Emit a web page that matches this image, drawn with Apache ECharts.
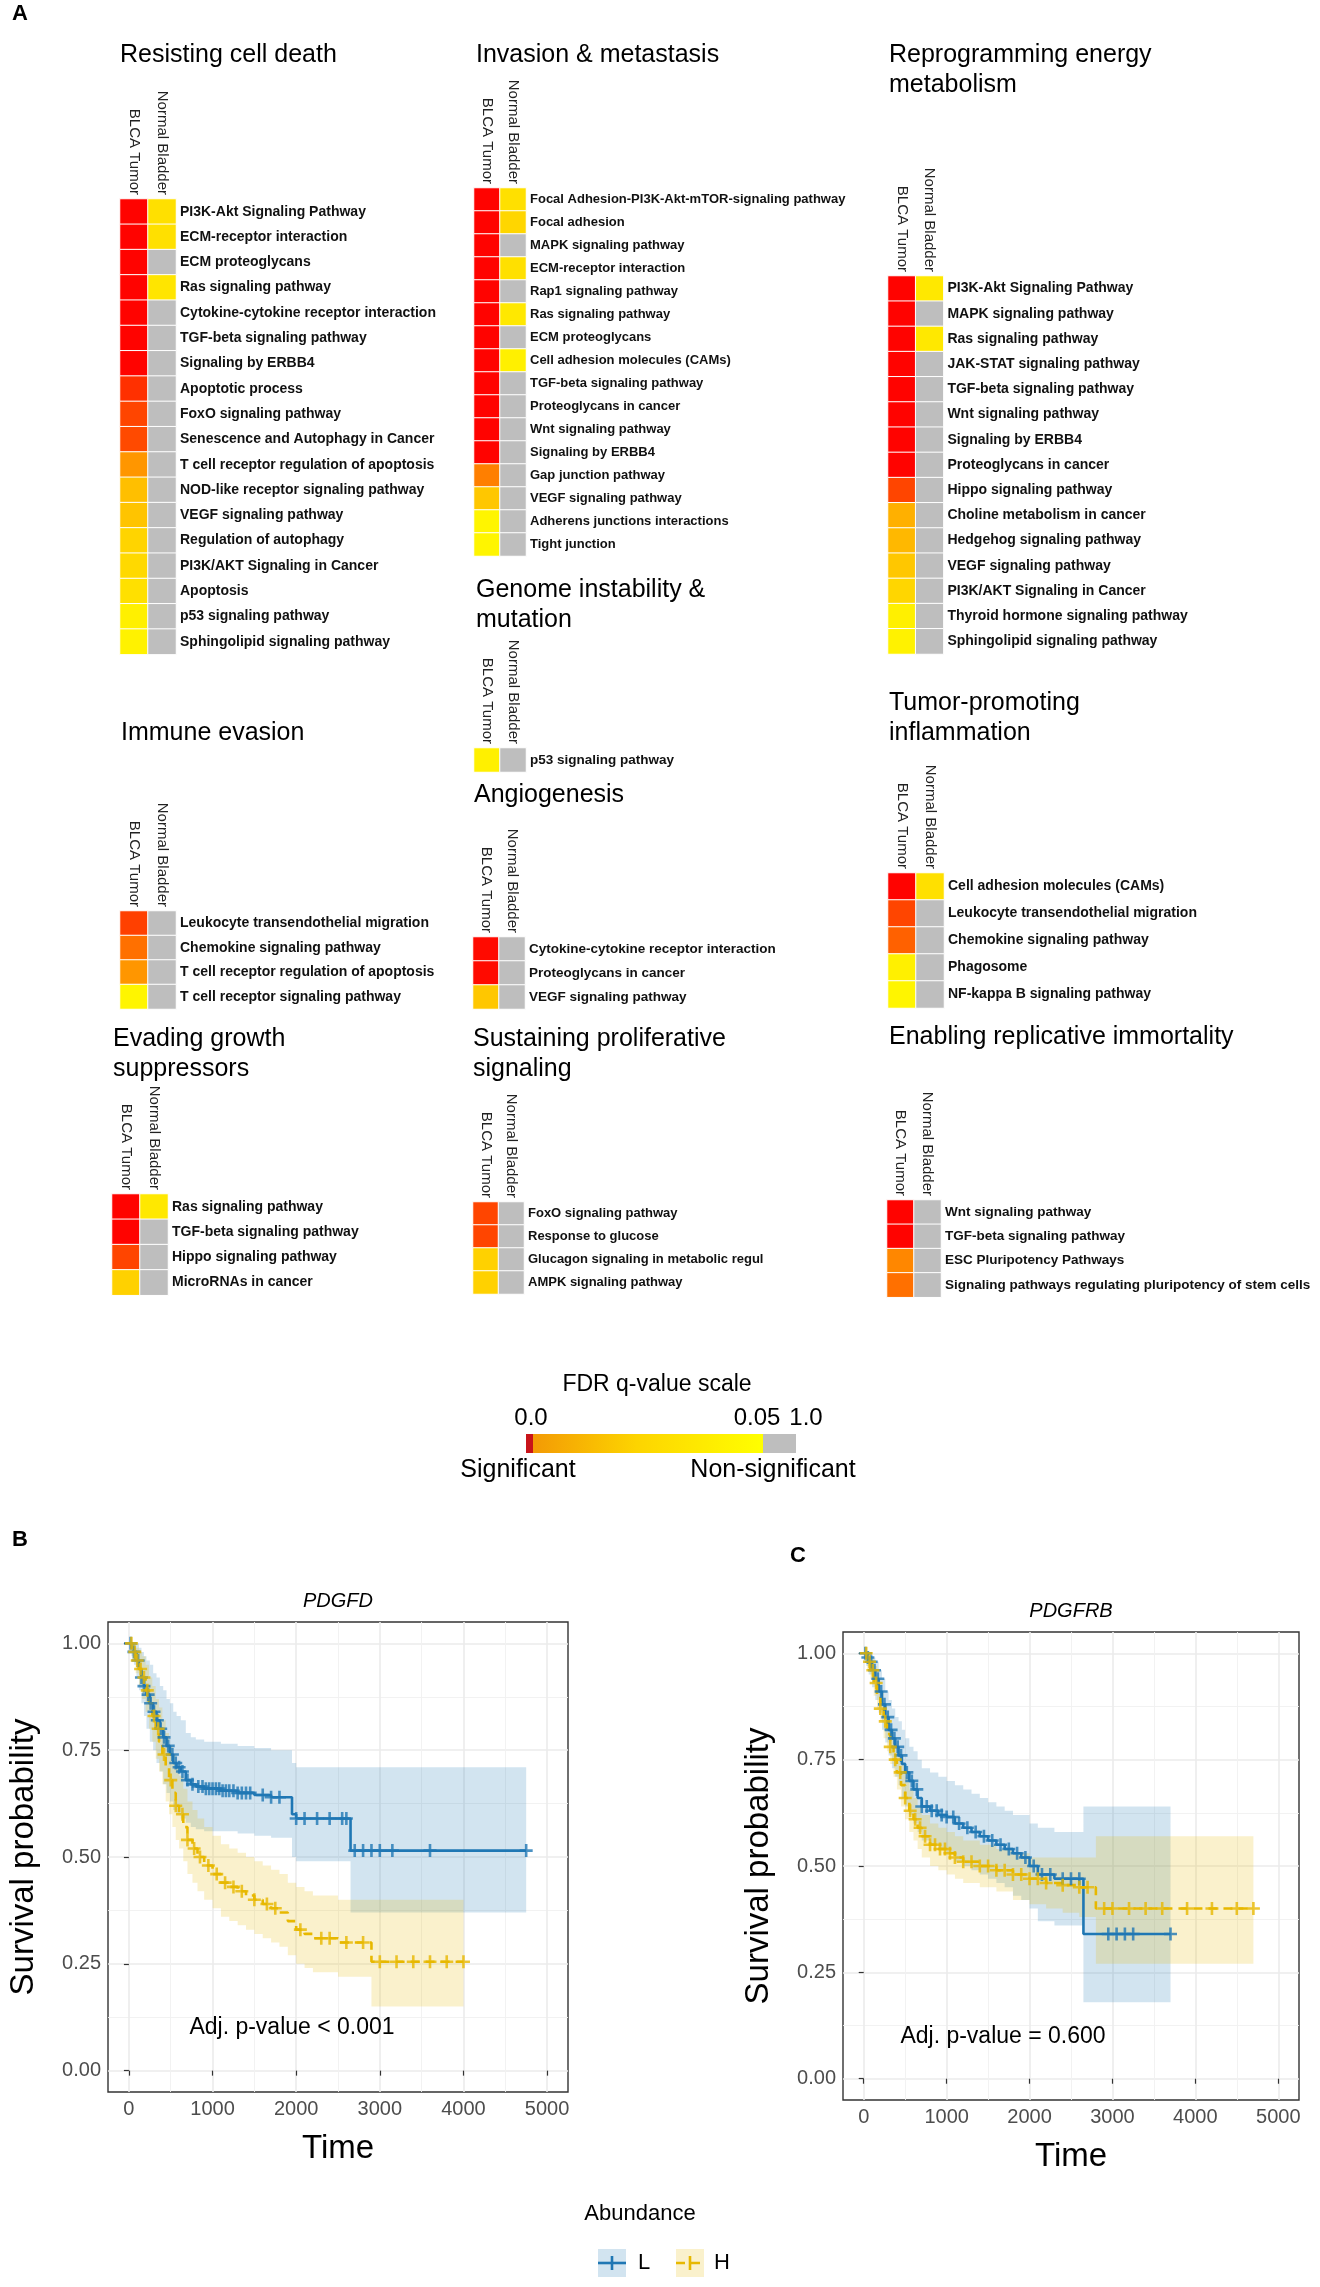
<!DOCTYPE html>
<html><head><meta charset="utf-8">
<script src="https://cdn.jsdelivr.net/npm/echarts@6/dist/echarts.min.js"></script>
<style>html,body{margin:0;padding:0;background:#fff}#c{width:1320px;height:2287px}</style>
</head><body><div id="c"></div>
<script>
// ---------------- DATA ----------------
const columns = ['BLCA Tumor', 'Normal Bladder'];

const resistingRows = ['PI3K-Akt Signaling Pathway','ECM-receptor interaction','ECM proteoglycans','Ras signaling pathway','Cytokine-cytokine receptor interaction','TGF-beta signaling pathway','Signaling by ERBB4','Apoptotic process','FoxO signaling pathway','Senescence and Autophagy in Cancer','T cell receptor regulation of apoptosis','NOD-like receptor signaling pathway','VEGF signaling pathway','Regulation of autophagy','PI3K/AKT Signaling in Cancer','Apoptosis','p53 signaling pathway','Sphingolipid signaling pathway'];
const resistingTumor  = [0.0005,0.0005,0.0005,0.0005,0.0005,0.0005,0.0005,0.0095,0.0135,0.0145,0.0295,0.0375,0.0385,0.0415,0.0425,0.044,0.047,0.0475];
const resistingNormal = [0.044,0.044,1,0.045,1,1,1,1,1,1,1,1,1,1,1,1,1,1];

const invasionRows = ['Focal Adhesion-PI3K-Akt-mTOR-signaling pathway','Focal adhesion','MAPK signaling pathway','ECM-receptor interaction','Rap1 signaling pathway','Ras signaling pathway','ECM proteoglycans','Cell adhesion molecules (CAMs)','TGF-beta signaling pathway','Proteoglycans in cancer','Wnt signaling pathway','Signaling by ERBB4','Gap junction pathway','VEGF signaling pathway','Adherens junctions interactions','Tight junction'];
const invasionTumor  = [0.0005,0.0005,0.0005,0.0005,0.0005,0.0005,0.0005,0.0005,0.0005,0.0005,0.0005,0.0005,0.025,0.039,0.048,0.048];
const invasionNormal = [0.044,0.042,1,0.044,1,0.0455,1,0.047,1,1,1,1,1,1,1,1];

const reprogrammingRows = ['PI3K-Akt Signaling Pathway','MAPK signaling pathway','Ras signaling pathway','JAK-STAT signaling pathway','TGF-beta signaling pathway','Wnt signaling pathway','Signaling by ERBB4','Proteoglycans in cancer','Hippo signaling pathway','Choline metabolism in cancer','Hedgehog signaling pathway','VEGF signaling pathway','PI3K/AKT Signaling in Cancer','Thyroid hormone signaling pathway','Sphingolipid signaling pathway'];
const reprogrammingTumor  = [0.0005,0.0005,0.0005,0.0005,0.0005,0.0005,0.0005,0.0005,0.0135,0.0345,0.036,0.039,0.042,0.047,0.0475];
const reprogrammingNormal = [0.0455,1,0.0455,1,1,1,1,1,1,1,1,1,1,1,1];

const immuneRows = ['Leukocyte transendothelial migration','Chemokine signaling pathway','T cell receptor regulation of apoptosis','T cell receptor signaling pathway'];
const immuneTumor  = [0.0125,0.022,0.0295,0.048];
const immuneNormal = [1,1,1,1];

const genomeRows = ['p53 signaling pathway'];
const genomeTumor  = [0.047];
const genomeNormal = [1];

const angiogenesisRows = ['Cytokine-cytokine receptor interaction','Proteoglycans in cancer','VEGF signaling pathway'];
const angiogenesisTumor  = [0.002,0.002,0.039];
const angiogenesisNormal = [1,1,1];

const inflammationRows = ['Cell adhesion molecules (CAMs)','Leukocyte transendothelial migration','Chemokine signaling pathway','Phagosome','NF-kappa B signaling pathway'];
const inflammationTumor  = [0.0005,0.0135,0.019,0.047,0.048];
const inflammationNormal = [0.044,1,1,1,1];

const evadingRows = ['Ras signaling pathway','TGF-beta signaling pathway','Hippo signaling pathway','MicroRNAs in cancer'];
const evadingTumor  = [0.0005,0.0005,0.0135,0.041];
const evadingNormal = [0.0455,1,1,1];

const sustainingRows = ['FoxO signaling pathway','Response to glucose','Glucagon signaling in metabolic regul','AMPK signaling pathway'];
const sustainingTumor  = [0.0135,0.0135,0.041,0.041];
const sustainingNormal = [1,1,1,1];

const enablingRows = ['Wnt signaling pathway','TGF-beta signaling pathway','ESC Pluripotency Pathways','Signaling pathways regulating pluripotency of stem cells'];
const enablingTumor  = [0.0005,0.0005,0.0265,0.022];
const enablingNormal = [1,1,1,1];

const fdrScaleTicks = ['0.0', '0.05', '1.0'];

// Kaplan-Meier: PDGFD
const pdgfdLTime  = [0,30,60,90,120,150,180,210,250,290,330,370,410,450,490,530,570,620,680,740,800,900,1100,1300,1500,1700,1950,2000,2650,4750];
const pdgfdLSurv  = [1.0,0.99,0.98,0.96,0.94,0.92,0.90,0.88,0.86,0.84,0.82,0.80,0.78,0.76,0.74,0.72,0.71,0.70,0.68,0.67,0.665,0.66,0.655,0.65,0.645,0.64,0.60,0.59,0.515,0.515];
const pdgfdLLower = [1.0,0.97,0.95,0.92,0.89,0.86,0.83,0.80,0.77,0.75,0.72,0.70,0.67,0.65,0.63,0.61,0.60,0.59,0.58,0.57,0.565,0.56,0.56,0.555,0.55,0.545,0.50,0.49,0.37,0.37];
const pdgfdLUpper = [1.0,1.0,1.0,1.0,0.99,0.98,0.97,0.96,0.95,0.93,0.92,0.90,0.89,0.87,0.86,0.84,0.83,0.82,0.79,0.78,0.775,0.77,0.765,0.76,0.755,0.75,0.72,0.71,0.71,0.71];
const pdgfdLCensor = [20,60,110,150,180,230,260,300,340,380,420,470,520,560,600,640,700,760,830,880,920,960,1000,1040,1080,1120,1160,1200,1250,1300,1350,1400,1450,1600,1700,1800,2000,2100,2250,2400,2550,2600,2700,2800,2900,3000,3150,3600,4750];

const pdgfdHTime  = [0,40,80,120,160,200,240,280,320,360,400,440,480,520,560,600,650,700,760,820,900,1000,1100,1200,1300,1400,1500,1600,1700,1800,1900,2000,2100,2200,2500,2900,4000];
const pdgfdHSurv  = [1.0,0.98,0.96,0.94,0.92,0.89,0.86,0.83,0.80,0.77,0.74,0.71,0.68,0.65,0.62,0.60,0.57,0.54,0.52,0.50,0.48,0.46,0.44,0.43,0.42,0.41,0.40,0.39,0.38,0.37,0.35,0.33,0.32,0.31,0.30,0.255,0.255];
const pdgfdHLower = [1.0,0.96,0.93,0.90,0.87,0.84,0.80,0.77,0.73,0.70,0.67,0.63,0.60,0.57,0.54,0.52,0.49,0.46,0.44,0.42,0.40,0.38,0.36,0.35,0.34,0.33,0.32,0.31,0.30,0.29,0.27,0.25,0.24,0.23,0.22,0.15,0.15];
const pdgfdHUpper = [1.0,1.0,0.99,0.98,0.97,0.95,0.92,0.90,0.87,0.85,0.82,0.79,0.76,0.74,0.71,0.69,0.66,0.63,0.61,0.59,0.57,0.55,0.53,0.52,0.51,0.50,0.49,0.48,0.47,0.46,0.44,0.43,0.42,0.41,0.40,0.40,0.40];
const pdgfdHCensor = [30,70,100,140,180,220,300,350,420,500,560,640,700,780,850,950,1050,1150,1250,1350,1500,1650,1750,2050,2300,2400,2600,2800,3000,3200,3400,3600,3800,4000];

// Kaplan-Meier: PDGFRB
const pdgfrbLTime  = [0,30,60,100,140,180,220,260,300,340,380,420,460,500,550,600,650,700,800,900,1000,1100,1200,1300,1400,1500,1600,1700,1800,1900,2000,2100,2300,2650,3700];
const pdgfrbLSurv  = [1.0,0.99,0.98,0.96,0.94,0.91,0.88,0.85,0.82,0.80,0.78,0.76,0.74,0.72,0.70,0.68,0.66,0.64,0.63,0.62,0.615,0.60,0.59,0.58,0.57,0.56,0.55,0.54,0.53,0.52,0.50,0.48,0.47,0.34,0.34];
const pdgfrbLLower = [1.0,0.97,0.95,0.92,0.89,0.86,0.82,0.79,0.76,0.73,0.71,0.69,0.66,0.64,0.62,0.60,0.58,0.56,0.55,0.54,0.53,0.51,0.50,0.49,0.48,0.47,0.46,0.45,0.43,0.42,0.40,0.37,0.36,0.18,0.18];
const pdgfrbLUpper = [1.0,1.0,1.0,0.99,0.98,0.96,0.94,0.91,0.89,0.87,0.85,0.84,0.82,0.80,0.78,0.77,0.75,0.73,0.72,0.71,0.70,0.69,0.68,0.67,0.66,0.65,0.64,0.63,0.62,0.62,0.60,0.59,0.58,0.64,0.64];
const pdgfrbLCensor = [20,50,90,130,170,210,250,290,330,370,410,450,520,580,640,700,760,820,880,940,1000,1080,1150,1250,1350,1450,1550,1650,1750,1850,1950,2050,2150,2250,2400,2500,2600,2950,3050,3150,3250,3700];

const pdgfrbHTime  = [0,40,80,120,160,200,240,280,320,360,400,450,500,550,600,650,700,800,900,1000,1100,1200,1400,1600,1800,2000,2200,2400,2600,2800,4700];
const pdgfrbHSurv  = [1.0,0.98,0.96,0.93,0.90,0.87,0.84,0.81,0.78,0.75,0.72,0.69,0.66,0.63,0.61,0.59,0.57,0.55,0.54,0.53,0.52,0.51,0.50,0.49,0.48,0.47,0.46,0.455,0.45,0.40,0.40];
const pdgfrbHLower = [1.0,0.96,0.94,0.90,0.87,0.84,0.80,0.77,0.74,0.71,0.68,0.64,0.61,0.58,0.56,0.54,0.52,0.50,0.49,0.48,0.47,0.46,0.45,0.44,0.42,0.41,0.40,0.39,0.38,0.27,0.27];
const pdgfrbHUpper = [1.0,1.0,0.99,0.97,0.94,0.91,0.88,0.85,0.82,0.79,0.77,0.74,0.71,0.68,0.66,0.64,0.62,0.60,0.59,0.58,0.57,0.56,0.55,0.54,0.53,0.52,0.52,0.52,0.52,0.57,0.57];
const pdgfrbHCensor = [30,70,110,150,200,260,320,380,440,500,560,620,680,740,800,860,920,980,1040,1100,1200,1300,1400,1500,1600,1700,1800,1900,2000,2100,2200,2400,2600,2700,2900,3000,3200,3400,3600,3900,4200,4500,4700];

const timeTicks = [0,1000,2000,3000,4000,5000];
const timeMinor = [500,1500,2500,3500,4500];
const survTicks = [0,0.25,0.5,0.75,1];
const survMinor = [0.125,0.375,0.625,0.875];
const groupNames = ['L','H'];

// ---------------- LAYOUT / STYLE ----------------
const FF = '"Liberation Sans", Arial, Helvetica, sans-serif';
const panels = [
  {title:'Resisting cell death', rows:resistingRows, tumor:resistingTumor, normal:resistingNormal, x:120, top:199, rowH:25.3, colW:28, fs:14, tx:120, ty:40},
  {title:'Invasion & metastasis', rows:invasionRows, tumor:invasionTumor, normal:invasionNormal, x:474, top:188, rowH:23, colW:26, fs:13, tx:476, ty:40},
  {title:'Reprogramming energy\nmetabolism', rows:reprogrammingRows, tumor:reprogrammingTumor, normal:reprogrammingNormal, x:888, top:276, rowH:25.2, colW:27.7, fs:14, tx:889, ty:40},
  {title:'Immune evasion', rows:immuneRows, tumor:immuneTumor, normal:immuneNormal, x:120, top:911, rowH:24.5, colW:28, fs:14, tx:121, ty:718},
  {title:'Genome instability &\nmutation', rows:genomeRows, tumor:genomeTumor, normal:genomeNormal, x:474, top:748, rowH:24, colW:26, fs:13.5, tx:476, ty:575},
  {title:'Angiogenesis', rows:angiogenesisRows, tumor:angiogenesisTumor, normal:angiogenesisNormal, x:473, top:937, rowH:24, colW:26, fs:13.5, tx:474, ty:780},
  {title:'Tumor-promoting\ninflammation', rows:inflammationRows, tumor:inflammationTumor, normal:inflammationNormal, x:888, top:873, rowH:27, colW:28, fs:14, tx:889, ty:688},
  {title:'Evading growth\nsuppressors', rows:evadingRows, tumor:evadingTumor, normal:evadingNormal, x:112, top:1194, rowH:25.3, colW:28, fs:14, tx:113, ty:1024},
  {title:'Sustaining proliferative\nsignaling', rows:sustainingRows, tumor:sustainingTumor, normal:sustainingNormal, x:473, top:1202, rowH:23, colW:25.5, fs:13, tx:473, ty:1024},
  {title:'Enabling replicative immortality', rows:enablingRows, tumor:enablingTumor, normal:enablingNormal, x:887, top:1200, rowH:24.3, colW:27, fs:13.5, tx:889, ty:1022}
];

const grids = [], xAxes = [], yAxes = [], series = [], titles = [];
panels.forEach((p, i) => {
  grids.push({left:p.x, top:p.top, width:2*p.colW, height:p.rows.length*p.rowH, containLabel:false, outerBoundsMode:'none'});
  xAxes.push({type:'category', gridIndex:i, data:columns, position:'top',
    axisLine:{show:false}, axisTick:{show:false}, splitLine:{show:false},
    axisLabel:{rotate:90, fontSize:15, color:'#222', margin:4, fontFamily:FF, interval:0}});
  yAxes.push({type:'category', gridIndex:i, data:p.rows, inverse:true, position:'right',
    axisLine:{show:false}, axisTick:{show:false}, splitLine:{show:false},
    axisLabel:{fontSize:p.fs, fontWeight:'bold', color:'#111', margin:4, fontFamily:FF, interval:0}});
  const d = [];
  p.rows.forEach((r, j) => { d.push([0, j, p.tumor[j]]); d.push([1, j, p.normal[j]]); });
  series.push({type:'heatmap', xAxisIndex:i, yAxisIndex:i, data:d, silent:true,
    itemStyle:{borderColor:'#ffffff', borderWidth:1}});
  titles.push({text:p.title, left:p.tx, top:p.ty, padding:0,
    textStyle:{fontSize:25, fontWeight:'normal', color:'#000', lineHeight:30, fontFamily:FF}});
});
const nHeat = panels.length;

// KM layout
const km = [
  {name:'PDGFD', left:108, top:1622, width:460, height:470, p:'Adj. p-value < 0.001', px:1950, py:0.1,
   L:[pdgfdLTime,pdgfdLSurv,pdgfdLLower,pdgfdLUpper,pdgfdLCensor], H:[pdgfdHTime,pdgfdHSurv,pdgfdHLower,pdgfdHUpper,pdgfdHCensor]},
  {name:'PDGFRB', left:843, top:1632, width:456, height:468, p:'Adj. p-value = 0.600', px:1680, py:0.1,
   L:[pdgfrbLTime,pdgfrbLSurv,pdgfrbLLower,pdgfrbLUpper,pdgfrbLCensor], H:[pdgfrbHTime,pdgfrbHSurv,pdgfrbHLower,pdgfrbHUpper,pdgfrbHCensor]}
];
const LCOL = '#1F77B4', HCOL = '#E7B800';
const LFILL = 'rgba(31,119,180,0.2)', HFILL = 'rgba(231,184,0,0.2)';
const plus = 'path://M4,0H6V4H10V6H6V10H4V6H0V4H4Z';
function stepAt(ts, ss, t){ let v = ss[0]; for (let i=0;i<ts.length;i++){ if (ts[i] <= t) v = ss[i]; } return v; }

km.forEach((k, n) => {
  const gi = nHeat + n;
  grids.push({left:k.left, top:k.top, width:k.width, height:k.height, show:true, borderColor:'#333', borderWidth:1.4, backgroundColor:'#fff', containLabel:false, outerBoundsMode:'none'});
  const xi = xAxes.length;
  xAxes.push({type:'value', gridIndex:gi, min:-250, max:5250, position:'bottom',
    axisLine:{show:false},
    axisTick:{show:true, customValues:timeTicks, length:5, lineStyle:{color:'#333', width:1.2}},
    axisLabel:{customValues:timeTicks, fontSize:20, color:'#4D4D4D', margin:7, fontFamily:FF, formatter:(v)=>String(v)},
    splitLine:{show:true, lineStyle:{color:'#EBEBEB', width:1.6}},
    name:'Time', nameLocation:'middle', nameGap:40, nameTextStyle:{fontSize:33, color:'#000', fontFamily:FF}});
  xAxes.push({type:'value', gridIndex:gi, min:-250, max:5250, position:'top',
    axisLine:{show:false}, axisTick:{show:false, customValues:timeMinor}, axisLabel:{show:false, customValues:timeMinor},
    splitLine:{show:true, lineStyle:{color:'#F0F0F0', width:0.9}}});
  const yi = yAxes.length;
  yAxes.push({type:'value', gridIndex:gi, min:-0.05, max:1.05, position:'left',
    axisLine:{show:false},
    axisTick:{show:true, customValues:survTicks, length:5, lineStyle:{color:'#333', width:1.2}},
    axisLabel:{customValues:survTicks, fontSize:20, color:'#4D4D4D', margin:7, fontFamily:FF, formatter:(v)=>v.toFixed(2)},
    splitLine:{show:true, lineStyle:{color:'#EBEBEB', width:1.6}},
    name:'Survival probability', nameLocation:'middle', nameGap:68, nameTextStyle:{fontSize:33, color:'#000', fontFamily:FF}});
  yAxes.push({type:'value', gridIndex:gi, min:-0.05, max:1.05, position:'right',
    axisLine:{show:false}, axisTick:{show:false, customValues:survMinor}, axisLabel:{show:false, customValues:survMinor},
    splitLine:{show:true, lineStyle:{color:'#F0F0F0', width:0.9}}});
  // confidence bands (stepped polygons through the axis scales)
  [[k.L, LFILL], [k.H, HFILL]].forEach(([arr, fill]) => {
    const [ts, ss, lo, hi] = arr;
    series.push({type:'custom', xAxisIndex:xi, yAxisIndex:yi, silent:true, z:1, data:[[0, 0]],
      renderItem:(params, api) => {
        const pts = [];
        for (let i = 0; i < ts.length; i++) {
          const x1 = i + 1 < ts.length ? ts[i+1] : ts[i];
          pts.push(api.coord([ts[i], hi[i]])); pts.push(api.coord([x1, hi[i]]));
        }
        for (let i = ts.length - 1; i >= 0; i--) {
          const x1 = i + 1 < ts.length ? ts[i+1] : ts[i];
          pts.push(api.coord([x1, lo[i]])); pts.push(api.coord([ts[i], lo[i]]));
        }
        return {type:'polygon', shape:{points:pts}, style:{fill:fill, stroke:null}};
      }});
  });
  [['L', k.L, LCOL, 'solid'], ['H', k.H, HCOL, [9,6]]].forEach(([g, arr, col, dash]) => {
    const [ts, ss] = arr;
    const s = {type:'line', name:g, xAxisIndex:xi, yAxisIndex:yi, step:'end', symbol:'none', silent:true,
      lineStyle:{color:col, width:2.6, type:dash}, data:ts.map((t,i)=>[t, ss[i]]), z:3};
    if (g === 'L') {
      s.markPoint = {symbol:'rect', symbolSize:1, itemStyle:{color:'rgba(0,0,0,0)'}, silent:true,
        data:[{coord:[k.px, k.py]}],
        label:{show:true, position:'inside', formatter:k.p, fontSize:23, color:'#000', fontFamily:FF}};
    }
    series.push(s);
  });
  [['L', k.L, LCOL], ['H', k.H, HCOL]].forEach(([g, arr, col]) => {
    const [ts, ss] = arr;
    series.push({type:'scatter', xAxisIndex:xi, yAxisIndex:yi, symbol:plus, symbolSize:13, silent:true,
      itemStyle:{color:col}, data:arr[4].map(t => [t, stepAt(ts, ss, t)]), z:4});
  });
  titles.push({text:k.name, left:k.left + k.width/2, top:k.top - 31, textAlign:'center', padding:0,
    textStyle:{fontSize:20, fontStyle:'italic', fontWeight:'normal', color:'#000', fontFamily:FF}});
});

// ---------------- GRAPHIC (panel letters, FDR scale, legend) ----------------
function txt(text, x, y, size, opts) {
  opts = opts || {};
  return {type:'text', x:x, y:y, silent:true, style:{text:text, fontSize:size, fontFamily:FF, fill:'#000',
    textAlign:opts.align||'center', align:opts.align||'center', textVerticalAlign:'middle', verticalAlign:'middle',
    fontWeight:opts.weight||'normal'}};
}
const graphic = [
  txt('A', 12, 14, 22, {align:'left', weight:'bold'}),
  txt('B', 12, 1540, 22, {align:'left', weight:'bold'}),
  txt('C', 790, 1556, 22, {align:'left', weight:'bold'}),
  txt('FDR q-value scale', 657, 1385, 23),
  txt(fdrScaleTicks[0], 531, 1418, 24),
  txt(fdrScaleTicks[1], 757, 1418, 24),
  txt(fdrScaleTicks[2], 806, 1418, 24),
  {type:'rect', silent:true, shape:{x:526, y:1434, width:8, height:19}, style:{fill:'#C8141A'}},
  {type:'rect', silent:true, shape:{x:533, y:1434, width:230, height:19}, style:{fill:new echarts.graphic.LinearGradient(0,0,1,0,[{offset:0,color:'#F39A05'},{offset:0.45,color:'#FDD400'},{offset:1,color:'#FFFF00'}])}},
  {type:'rect', silent:true, shape:{x:763, y:1434, width:33, height:19}, style:{fill:'#BEBEBE'}},
  txt('Significant', 518, 1470, 25),
  txt('Non-significant', 773, 1470, 25),
  txt('Abundance', 640, 2214, 22),
  {type:'rect', silent:true, shape:{x:598, y:2249, width:28, height:28}, style:{fill:'#D2E4F0'}},
  {type:'line', silent:true, shape:{x1:598, y1:2263, x2:626, y2:2263}, style:{stroke:LCOL, lineWidth:2.6}},
  {type:'line', silent:true, shape:{x1:612, y1:2256, x2:612, y2:2270}, style:{stroke:LCOL, lineWidth:2.6}},
  txt(groupNames[0], 644, 2263, 22),
  {type:'rect', silent:true, shape:{x:676, y:2249, width:28, height:28}, style:{fill:'#FAF1CC'}},
  {type:'line', silent:true, shape:{x1:676, y1:2263, x2:704, y2:2263}, style:{stroke:HCOL, lineWidth:2.6, lineDash:[9,6]}},
  {type:'line', silent:true, shape:{x1:690, y1:2256, x2:690, y2:2270}, style:{stroke:HCOL, lineWidth:2.6}},
  txt(groupNames[1], 722, 2263, 22)
];

const option = {
  animation:false,
  backgroundColor:'#ffffff',
  textStyle:{fontFamily:FF},
  title:titles,
  grid:grids,
  xAxis:xAxes,
  yAxis:yAxes,
  visualMap:{type:'continuous', show:false, min:0, max:0.0500001, range:[0,0.05], dimension:2,
    seriesIndex:panels.map((p,i)=>i), inRange:{color:['#FF0000','#FFFF00']}, outOfRange:{color:'#BEBEBE'}},
  series:series,
  graphic:graphic
};
const chart = echarts.init(document.getElementById('c'), null, {renderer:'canvas'});
chart.setOption(option);
</script></body></html>
